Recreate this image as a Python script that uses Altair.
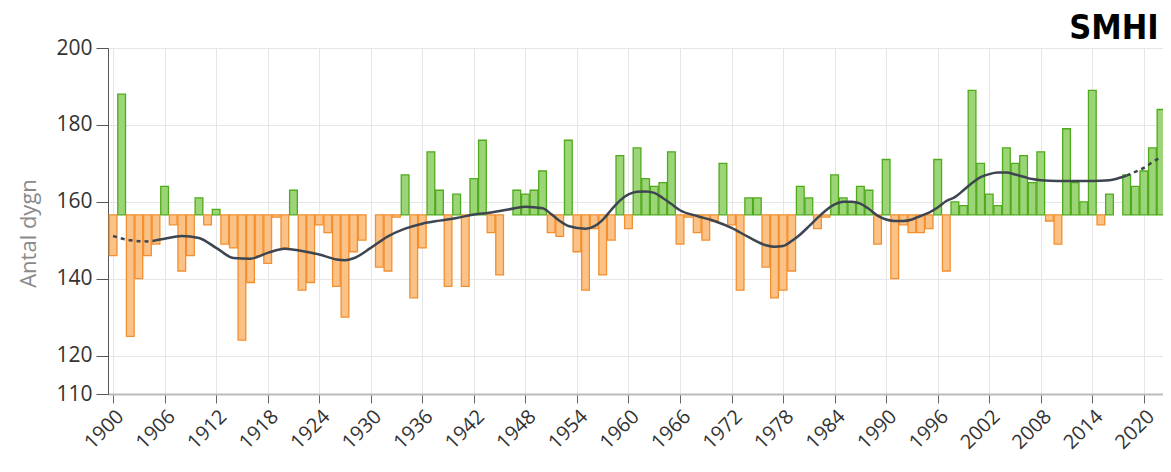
import altair as alt
import pandas as pd
import numpy as np

# ---- data ----
years = list(range(1900, 2023))
values = [
    146, 188, 125, 140, 146, 149, 164, 154, 142, 146,   # 1900-1909
    161, 154, 158, 149, 148, 124, 139, 146, 144, 156,   # 1910-1919
    148, 163, 137, 139, 154, 152, 138, 130, 147, 150,   # 1920-1929
    None, 143, 142, 156, 167, 135, 148, 173, 163, 138,  # 1930-1939
    162, 138, 166, 176, 152, 141, None, 163, 162, 163,  # 1940-1949
    168, 152, 151, 176, 147, 137, 153, 141, 150, 172,   # 1950-1959
    153, 174, 166, 164, 165, 173, 149, 156, 152, 150,   # 1960-1969
    155, 170, 154, 137, 161, 161, 143, 135, 137, 142,   # 1970-1979
    164, 161, 153, 156, 167, 161, 160, 164, 163, 149,   # 1980-1989
    171, 140, 154, 152, 152, 153, 171, 142, 160, 159,   # 1990-1999
    189, 170, 162, 159, 174, 170, 172, 165, 173, 155,   # 2000-2009
    149, 179, 165, 160, 189, 154, 162, None, 167, 164,  # 2010-2019
    168, 174, 184,                                      # 2020-2022
]
BASE = 156.6

trend_years = [1900, 1902, 1904, 1905, 1906, 1908, 1910, 1912, 1914, 1916, 1918,
               1920, 1922, 1924, 1926, 1927, 1928, 1930, 1932, 1934, 1936, 1938,
               1940, 1942, 1944, 1946, 1948, 1950, 1951, 1952, 1953, 1955, 1956,
               1957, 1958, 1959, 1960, 1961, 1962, 1963, 1964, 1965, 1966, 1968,
               1970, 1972, 1974, 1976, 1977, 1978, 1979, 1980, 1981, 1982, 1983,
               1984, 1985, 1986, 1987, 1988, 1989, 1990, 1991, 1992, 1993, 1994,
               1995, 1996, 1997, 1998, 1999, 2000, 2001, 2002, 2003, 2004, 2005,
               2006, 2007, 2008, 2010, 2012, 2014, 2016, 2017, 2018, 2019, 2020,
               2021, 2022]
trend_values = [151.1, 150.0, 149.7, 150.0, 150.4, 151.1, 150.6, 148.0, 145.4, 145.2, 146.7,
                147.8, 147.2, 146.3, 145.0, 144.8, 145.3, 148.0, 151.0, 153.0, 154.3, 155.1,
                155.8, 156.7, 157.2, 158.0, 158.7, 158.3, 156.8, 155.0, 153.7, 153.0, 153.6,
                155.3, 157.9, 160.3, 161.9, 162.6, 162.7, 162.3, 161.0, 159.4, 157.8, 156.3,
                155.0, 153.2, 150.8, 148.7, 148.3, 148.5, 149.8, 151.5, 153.6, 155.8, 157.8,
                159.3, 160.0, 160.0, 159.5, 158.1, 156.4, 155.4, 155.0, 155.0, 155.4, 156.3,
                157.2, 158.5, 160.2, 161.2, 163.0, 164.9, 166.4, 167.2, 167.6, 167.6, 167.1,
                166.5, 165.9, 165.6, 165.4, 165.4, 165.4, 165.6, 166.1, 166.8, 167.8, 168.8,
                170.3, 171.6]

x_ticks = list(range(1900, 2021, 6))
y_ticks = [110, 120, 140, 160, 180, 200]

# ---- tables ----
df = pd.DataFrame({"year": years, "value": values}).dropna()
df["x0"] = df["year"] - 0.45
df["x1"] = df["year"] + 0.45
df["base"] = BASE
df["sign"] = np.where(df["value"] >= BASE, "over", "under")

tr = pd.DataFrame({"year": trend_years, "value": trend_values})
tr["seg"] = np.where(tr["year"] <= 1905, "a", np.where(tr["year"] >= 2018, "c", "b"))
joins = tr[tr["year"].isin([1905, 2018])].copy()
joins["seg"] = "b"
tr = pd.concat([tr, joins], ignore_index=True).sort_values(["seg", "year"])

FONT = "Open Sans"
xscale = alt.Scale(domain=[1899.41, 2022.23], nice=False, zero=False)
yscale = alt.Scale(domain=[110, 200], nice=False, zero=False)

bars = alt.Chart(df).mark_bar(strokeWidth=1.3, clip=True).encode(
    x=alt.X("x0:Q", scale=xscale, title=None,
            axis=alt.Axis(values=x_ticks, format="d", labelAngle=-45,
                          labelFontSize=20, labelColor="#333333", labelFont=FONT,
                          tickSize=9, tickColor="#666666", labelPadding=3,
                          domainColor="#bbbbbb", domainWidth=2,
                          grid=True, gridColor="#e6e6e6", labelOverlap=False)),
    x2="x1:Q",
    y=alt.Y("value:Q", scale=yscale,
            axis=alt.Axis(values=y_ticks, title="Antal dygn", labelFontSize=21,
                          labelColor="#333333", labelFont=FONT, tickSize=12,
                          tickColor="#555555", domainColor="#555555",
                          labelPadding=4, grid=True, gridColor="#e6e6e6",
                          titleFont=FONT, titleFontSize=22, titleFontWeight="normal",
                          titleColor="#8a8a8a", titleX=-73, titleY=185,
                          titleAngle=-90, titleAlign="center",
                          titleBaseline="alphabetic")),
    y2="base:Q",
    fill=alt.Fill("sign:N", scale=alt.Scale(domain=["over", "under"],
                                            range=["#9cd577", "#fbc287"]), legend=None),
    stroke=alt.Stroke("sign:N", scale=alt.Scale(domain=["over", "under"],
                                                range=["#50ab1c", "#f38f2e"]), legend=None),
)

solid = alt.Chart(tr).transform_filter(alt.datum.seg == "b").mark_line(
    color="#3d4650", strokeWidth=2.5, interpolate="monotone", clip=True
).encode(x=alt.X("year:Q", scale=xscale), y=alt.Y("value:Q", scale=yscale))

dashed = alt.Chart(tr).transform_filter(alt.datum.seg != "b").mark_line(
    color="#3d4650", strokeWidth=2.5, interpolate="monotone", strokeDash=[4, 4], clip=True
).encode(x=alt.X("year:Q", scale=xscale), y=alt.Y("value:Q", scale=yscale),
         detail="seg:N")

logo = alt.Chart(pd.DataFrame({"t": ["SMHI"]})).mark_text(
    font="DejaVu Sans Condensed", fontSize=34, fontWeight="bold", color="#000000",
    align="center", baseline="middle"
).encode(text="t:N", x=alt.value(1006), y=alt.value(-19))

chart = alt.layer(bars, solid, dashed, logo).properties(
    width=1055, height=346,
    autosize=alt.AutoSizeParams(type="none"),
    padding={"left": 100, "top": 40, "right": 0, "bottom": 64},
).configure_view(stroke=None).configure_axis(labelFont=FONT, titleFont=FONT)

chart.save("out.html", embed_options={"renderer": "svg", "actions": False})
